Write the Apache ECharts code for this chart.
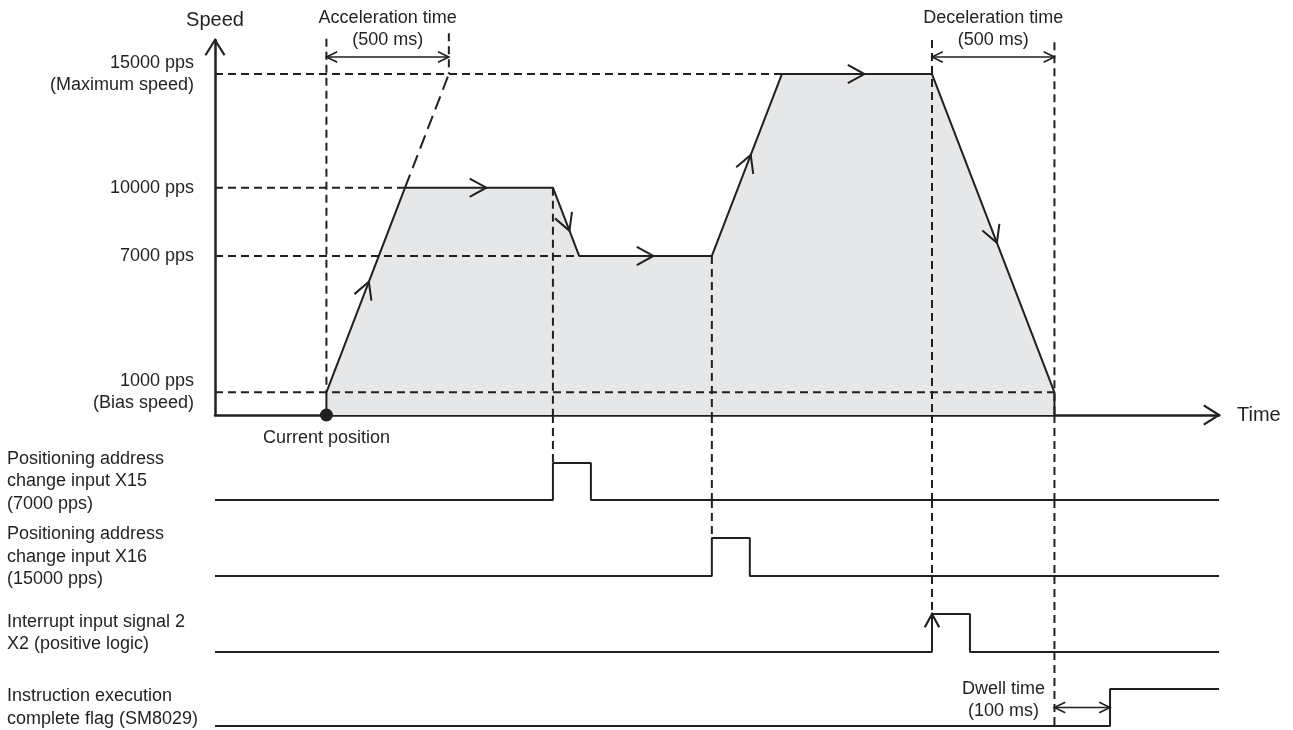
<!DOCTYPE html>
<html>
<head>
<meta charset="utf-8">
<script src="https://cdn.jsdelivr.net/npm/echarts@6/dist/echarts.min.js"></script>
<style>
  html, body { margin: 0; padding: 0; background: #fff; }
  #chart { width: 1293px; height: 730px; }
</style>
</head>
<body>
<div id="chart"></div>
<script>
// speed axis
const speedTicks = [1000, 7000, 10000, 15000];
const speedTickLabels = ['1000 pps\n(Bias speed)', '7000 pps', '10000 pps', '15000 pps\n(Maximum speed)'];
const biasSpeed = 1000;
const maxSpeed = 15000;

// speed profile (time in ms, speed in pps)
const profileTime = [455, 455, 776, 1380, 1487, 2029, 2315, 2928, 3428, 3428];
const profileSpeed = [0, 1000, 10000, 10000, 7000, 7000, 15000, 15000, 1000, 0];
// where the direction arrow sits on each profile segment (fraction of segment)
const flowArrowAt = [null, 0.54, 0.55, 0.63, 0.56, 0.555, 0.55, 0.53, null];

const accelTime = 500;
const decelTime = 500;
const endTime = 4100;

// signals
const signalLabels = [
  'Positioning address\nchange input X15\n(7000 pps)',
  'Positioning address\nchange input X16\n(15000 pps)',
  'Interrupt input signal 2\nX2 (positive logic)',
  'Instruction execution\ncomplete flag (SM8029)'
];
const signalRise = [1380, 2029, 2928, 3655];
const signalFall = [1535, 2184, 3083, null];

const spanLabels = ['Acceleration time\n(500 ms)', 'Deceleration time\n(500 ms)'];
const dwellLabel = 'Dwell time\n(100 ms)';

const INK = '#231f20';
const FILL = '#e6e7e8';
const FONT = "'Liberation Sans', Arial, Helvetica, sans-serif";

const rowMax = [2.3, 2, 2, 2];

function chevron(tip, ang, arm, spread) {
  const a1 = ang + Math.PI - spread, a2 = ang + Math.PI + spread;
  return [
    [tip[0] + arm * Math.cos(a1), tip[1] + arm * Math.sin(a1)],
    [tip[0], tip[1]],
    [tip[0] + arm * Math.cos(a2), tip[1] + arm * Math.sin(a2)]
  ];
}

function segSeries(gi, segs) {
  return {
    type: 'custom', xAxisIndex: gi, yAxisIndex: gi, z: 2, silent: true,
    data: segs,
    encode: { x: [0, 2], y: [1, 3] },
    renderItem: function (params, api) {
      const a = api.coord([api.value(0), api.value(1)]);
      const b = api.coord([api.value(2), api.value(3)]);
      return {
        type: 'line',
        shape: { x1: a[0], y1: a[1], x2: b[0], y2: b[1] },
        style: { stroke: INK, lineWidth: 2, lineDash: api.value(4) ? [14, 7] : [8, 5] }
      };
    }
  };
}

function headSeries(gi, heads, arm, spread) {
  return {
    type: 'custom', xAxisIndex: gi, yAxisIndex: gi, z: 5, silent: true,
    data: heads,
    encode: { x: 0, y: 1 },
    renderItem: function (params, api) {
      const p = api.coord([api.value(0), api.value(1)]);
      return {
        type: 'polyline',
        shape: { points: chevron(p, api.value(2) * Math.PI / 180, arm, spread) },
        style: { stroke: INK, fill: 'none', lineWidth: 2.2 }
      };
    }
  };
}

function spanSeries(gi, data, labels, place) {
  return {
    type: 'custom', xAxisIndex: gi, yAxisIndex: gi, z: 5, silent: true,
    data: data,
    encode: { x: [0, 1], y: 2 },
    renderItem: function (params, api) {
      const a = api.coord([api.value(0), api.value(2)]);
      const b = api.coord([api.value(1), api.value(2)]);
      const lp = place(a, b);
      const st = { stroke: INK, fill: 'none', lineWidth: 1.6 };
      return {
        type: 'group',
        children: [
          { type: 'line', shape: { x1: a[0], y1: a[1], x2: b[0], y2: b[1] }, style: st },
          { type: 'polyline', shape: { points: chevron(a, Math.PI, 12, 0.45) }, style: st },
          { type: 'polyline', shape: { points: chevron(b, 0, 12, 0.45) }, style: st },
          {
            type: 'text', x: lp.x, y: lp.y,
            style: {
              text: labels[params.dataIndex], align: 'center', verticalAlign: lp.va,
              fontSize: 18, lineHeight: 22, fontFamily: FONT, fill: INK
            }
          }
        ]
      };
    }
  };
}

// ----- guides -----
const gridSegs = [[], [], [], [], []];
speedTicks.forEach(function (v) {
  const idx = v === biasSpeed ? profileSpeed.lastIndexOf(v) : profileSpeed.indexOf(v);
  gridSegs[0].push([0, v, profileTime[idx], v, 0]);
});
// dashed extension of the acceleration ramp up to max speed
gridSegs[0].push([profileTime[2], profileSpeed[2], profileTime[1] + accelTime, maxSpeed, 1]);

const vGuides = [
  { t: profileTime[1], top: 16550, bottom: biasSpeed },
  { t: profileTime[1] + accelTime, top: 16800, bottom: maxSpeed },
  { t: signalRise[0], top: profileSpeed[3], row: 0, level: 1 },
  { t: signalRise[1], top: profileSpeed[5], row: 1, level: 1 },
  { t: signalRise[2], top: 16500, row: 2, level: 1 },
  { t: profileTime[8], top: 16400, row: 3, level: 0 }
];
vGuides.forEach(function (g) {
  gridSegs[0].push([g.t, g.top, g.t, g.row == null ? g.bottom : 0, 0]);
  if (g.row == null) return;
  for (let r = 0; r <= g.row; r++) {
    gridSegs[r + 1].push([g.t, rowMax[r], g.t, r === g.row ? g.level : 0, 0]);
  }
});

function stepPoints(rise, fall) {
  const pts = [[0, 0], [rise, 0], [rise, 1]];
  if (fall != null) pts.push([fall, 1], [fall, 0], [endTime, 0]);
  else pts.push([endTime, 1]);
  return pts;
}

const profileData = profileTime.map(function (t, i) { return [t, profileSpeed[i]]; });

const grids = [{ left: 215, right: 74, top: 40, height: 375 }];
[[415, 85], [500, 76], [576, 76], [652, 76]].forEach(function (g) {
  grids.push({ left: 215, right: 74, top: g[0], height: g[1] });
});

const xAxes = [{
  gridIndex: 0, type: 'value', min: 0, max: endTime,
  name: 'Time', nameLocation: 'end', nameGap: 18,
  nameTextStyle: { fontSize: 20, color: INK, fontFamily: FONT },
  axisLine: { show: true, lineStyle: { color: INK, width: 2.5 } },
  axisTick: { show: false }, axisLabel: { show: false }, splitLine: { show: false }
}];
const yAxes = [{
  gridIndex: 0, type: 'value', min: 0, max: 16500,
  name: 'Speed', nameLocation: 'end', nameGap: 10,
  nameTextStyle: { fontSize: 20, color: INK, fontFamily: FONT },
  axisLine: { show: true, lineStyle: { color: INK, width: 2.5 } },
  axisTick: { show: false }, splitLine: { show: false },
  axisLabel: {
    customValues: speedTicks,
    formatter: function (v) { return speedTickLabels[speedTicks.indexOf(v)]; },
    margin: 21, fontSize: 18, lineHeight: 22, color: INK, fontFamily: FONT
  }
}];

const series = [
  {
    type: 'line', xAxisIndex: 0, yAxisIndex: 0, z: 1, silent: true, clip: false,
    data: profileData, symbol: 'none',
    lineStyle: { width: 0, opacity: 0 },
    areaStyle: { color: FILL, opacity: 1 }
  },
  segSeries(0, gridSegs[0]),
  {
    type: 'line', xAxisIndex: 0, yAxisIndex: 0, z: 3, silent: true, clip: false,
    data: profileData, symbol: 'none',
    lineStyle: { width: 2, color: INK }
  },
  {
    type: 'custom', xAxisIndex: 0, yAxisIndex: 0, z: 4, silent: true,
    data: flowArrowAt.map(function (f, i) { return [i, f]; }).filter(function (d) { return d[1] != null; }),
    encode: { x: 0, y: 1 },
    renderItem: function (params, api) {
      const i = api.value(0), f = api.value(1);
      const a = api.coord([profileTime[i], profileSpeed[i]]);
      const b = api.coord([profileTime[i + 1], profileSpeed[i + 1]]);
      const tip = [a[0] + f * (b[0] - a[0]), a[1] + f * (b[1] - a[1])];
      const ang = Math.atan2(b[1] - a[1], b[0] - a[0]);
      return {
        type: 'polyline',
        shape: { points: chevron(tip, ang, 19, 0.5) },
        style: { stroke: INK, fill: 'none', lineWidth: 2 }
      };
    }
  },
  spanSeries(0, [[profileTime[1], profileTime[1] + accelTime, 15750], [profileTime[7], profileTime[7] + decelTime, 15750]],
    spanLabels, function (a, b) { return { x: (a[0] + b[0]) / 2, y: a[1] - 6, va: 'bottom' }; }),
  headSeries(0, [[0, 16500, -90], [endTime, 0, 0]], 18, 0.56),
  {
    type: 'scatter', xAxisIndex: 0, yAxisIndex: 0, z: 6, silent: true,
    data: [[profileTime[0], 0]], symbolSize: 13,
    itemStyle: { color: INK, opacity: 1 },
    label: {
      show: true, position: 'bottom', distance: 8, formatter: 'Current position',
      fontSize: 18, color: INK, opacity: 1, fontFamily: FONT
    }
  }
];

signalLabels.forEach(function (lbl, r) {
  const gi = r + 1;
  xAxes.push({ gridIndex: gi, type: 'value', min: 0, max: endTime, show: false });
  yAxes.push({
    gridIndex: gi, type: 'value', min: 0, max: rowMax[r],
    axisLine: { show: false }, axisTick: { show: false }, splitLine: { show: false },
    axisLabel: {
      customValues: [0.5], formatter: function () { return lbl; },
      align: 'left', margin: 208, fontSize: 18, lineHeight: 22.5, color: INK, fontFamily: FONT
    }
  });
  series.push({
    type: 'line', xAxisIndex: gi, yAxisIndex: gi, z: 3, silent: true, clip: false,
    data: stepPoints(signalRise[r], signalFall[r]), symbol: 'none',
    lineStyle: { width: 2, color: INK }
  });
  series.push(segSeries(gi, gridSegs[gi]));
});
// rising-edge trigger arrow on X2
series.push(headSeries(3, [[signalRise[2], 1, -90]], 15, 0.5));
// dwell time span
series.push(spanSeries(4, [[profileTime[8], signalRise[3], 0.5]], [dwellLabel],
  function (a, b) { return { x: a[0] - 51, y: a[1] - 7, va: 'middle' }; }));

const chart = echarts.init(document.getElementById('chart'));
chart.setOption({
  animation: false,
  backgroundColor: '#fff',
  textStyle: { fontFamily: FONT },
  grid: grids,
  xAxis: xAxes,
  yAxis: yAxes,
  series: series
});
</script>
</body>
</html>
